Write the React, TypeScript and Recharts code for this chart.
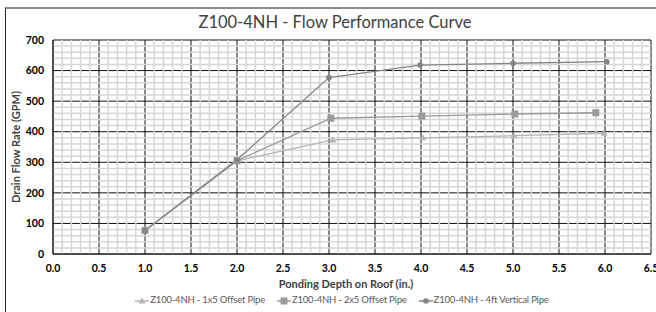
import { LineChart, Line, XAxis, YAxis, CartesianGrid, ReferenceLine } from 'recharts';

// Ponding depth (in.) and drain flow rate (GPM) per pipe configuration
const depth1x5 = [1.0, 2.0, 3.04, 4.02, 5.01, 5.99];
const flow1x5 = [77, 305, 373, 380, 387, 395];

const depth2x5 = [1.0, 2.0, 3.02, 4.01, 5.02, 5.9];
const flow2x5 = [77, 305, 444, 451, 458, 462];

const depth4ft = [1.0, 2.0, 3.0, 3.99, 5.0, 6.02];
const flow4ft = [77, 308, 577, 618, 624, 629];

const xTicks = [0, 0.5, 1, 1.5, 2, 2.5, 3, 3.5, 4, 4.5, 5, 5.5, 6, 6.5];
const yTicks = [0, 100, 200, 300, 400, 500, 600, 700];
const xMinorTicks = Array.from({ length: 66 }, (_, i) => Math.round(i * 10) / 100).filter((v) => !xTicks.includes(v));
const yMinorTicks = Array.from({ length: 36 }, (_, i) => i * 20).filter((v) => !yTicks.includes(v));

const toPoints = (xs: number[], ys: number[]) => xs.map((x, i) => ({ x, y: ys[i] }));

const series = [
  { name: 'Z100-4NH - 1x5 Offset Pipe', data: toPoints(depth1x5, flow1x5), color: '#b4b4b4', shape: 'triangle' },
  { name: 'Z100-4NH - 2x5 Offset Pipe', data: toPoints(depth2x5, flow2x5), color: '#9a9a9a', shape: 'square' },
  { name: 'Z100-4NH - 4ft Vertical Pipe', data: toPoints(depth4ft, flow4ft), color: '#858585', shape: 'circle' },
];

const FONT = 'Lato, "Open Sans", sans-serif';

function Marker({ cx, cy, shape, color }: any) {
  if (cx == null || cy == null) return null;
  if (shape === 'triangle') {
    return <polygon points={`${cx},${cy - 3.5} ${cx + 3.5},${cy + 2.5} ${cx - 3.5},${cy + 2.5}`} fill={color} />;
  }
  if (shape === 'square') {
    return <rect x={cx - 3.5} y={cy - 3.5} width={7} height={7} fill={color} />;
  }
  return <circle cx={cx} cy={cy} r={2.8} fill={color} />;
}

function LegendIcon({ shape, color }: any) {
  return (
    <svg width={14} height={8} style={{ marginRight: 1, verticalAlign: 'middle' }}>
      <line x1={0} y1={4} x2={14} y2={4} stroke={color} strokeWidth={1.5} />
      <Marker cx={7} cy={4} shape={shape} color={color} />
    </svg>
  );
}

export default function App() {
  return (
    <div style={{ position: 'absolute', left: 0, top: 0, width: 656, height: 312, background: '#fff', overflow: 'hidden', fontFamily: FONT }}>
      <div style={{ position: 'absolute', left: 5, top: 7, width: 700, height: 400, borderLeft: '1.5px solid #222', borderTop: '2px solid #8c8c8c' }} />
      <div style={{ position: 'absolute', left: 0, width: 670, top: 12, textAlign: 'center', fontSize: 16.5, color: '#404040' }}>
        Z100-4NH - Flow Performance Curve
      </div>
      <div style={{ position: 'absolute', left: 15, top: 147, transform: 'translate(-50%, -50%) rotate(-90deg)', whiteSpace: 'nowrap', fontSize: 11, fontWeight: 700, color: '#404040' }}>
        Drain Flow Rate (GPM)
      </div>
      <div style={{ position: 'absolute', left: 40, width: 612, top: 277, textAlign: 'center', fontSize: 11, fontWeight: 700, color: '#404040' }}>
        Ponding Depth on Roof (in.)
      </div>
      <div style={{ position: 'absolute', left: 0, width: 684, top: 294, display: 'flex', justifyContent: 'center', gap: 12, fontSize: 9.5, letterSpacing: -0.2, color: '#595959' }}>
        {series.map((s) => (
          <span key={s.name} style={{ whiteSpace: 'nowrap' }}>
            <LegendIcon shape={s.shape} color={s.color} />
            {s.name}
          </span>
        ))}
      </div>
      <div style={{ position: 'absolute', left: 0, top: 0 }}>
        <LineChart width={656} height={312} margin={{ top: 40, right: 5, bottom: 38, left: 8 }}>
          {xMinorTicks.map((v) => (
            <ReferenceLine key={`mx${v}`} x={v} stroke="#d6d6d6" strokeWidth={1.5} />
          ))}
          {yMinorTicks.map((v) => (
            <ReferenceLine key={`my${v}`} y={v} stroke="#d6d6d6" strokeWidth={1.5} />
          ))}
          <CartesianGrid stroke="#111" strokeWidth={1} />
          <XAxis
            type="number"
            dataKey="x"
            domain={[0, 6.5]}
            ticks={xTicks}
            interval={0}
            tickFormatter={(v: number) => v.toFixed(1)}
            tickLine={false}
            axisLine={{ stroke: '#111' }}
            tick={{ fill: '#000', fontSize: 10.5, fontWeight: 700, fontFamily: FONT }}
            tickMargin={5}
            height={20}
          />
          <YAxis
            type="number"
            domain={[0, 700]}
            ticks={yTicks}
            interval={0}
            tickLine={false}
            axisLine={{ stroke: '#111' }}
            tick={{ fill: '#000', fontSize: 10.5, fontWeight: 700, fontFamily: FONT }}
            tickMargin={3}
            width={45}
          />
          {series.map((s) => (
            <Line
              key={s.name}
              data={s.data}
              dataKey="y"
              name={s.name}
              stroke={s.color}
              strokeWidth={1.3}
              dot={(p: any) => <Marker key={`${s.name}-${p.index}`} cx={p.cx} cy={p.cy} shape={s.shape} color={s.color} />}
              activeDot={false}
              isAnimationActive={false}
            />
          ))}
        </LineChart>
      </div>
    </div>
  );
}
